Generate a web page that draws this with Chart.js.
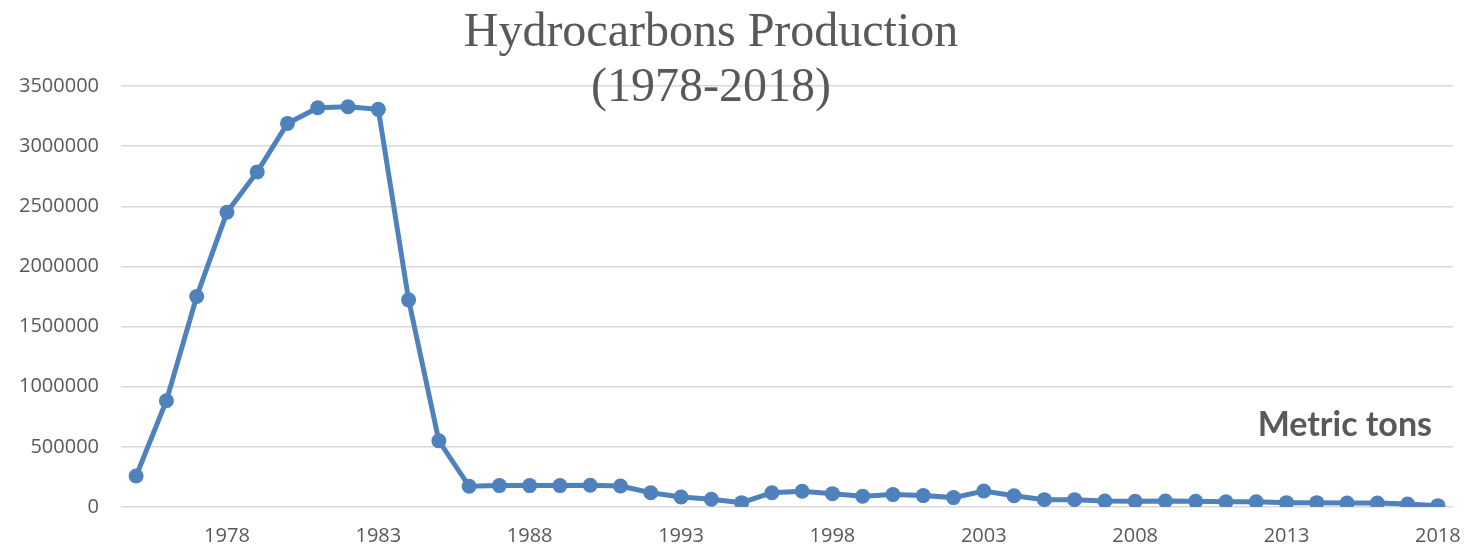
<!DOCTYPE html>
<html>
<head>
<meta charset="utf-8">
<script src="https://cdn.jsdelivr.net/npm/chart.js@4/dist/chart.umd.min.js"></script>
<style>
  html, body { margin: 0; padding: 0; background: #fff; }
  #wrap { width: 1468px; height: 549px; }
</style>
</head>
<body>
<div id="wrap"><canvas id="chart" width="1468" height="549"></canvas></div>
<script>
// Hydrocarbons production, metric tons per year
const years = [
  '1975', '1976', '1977', '1978', '1979', '1980', '1981', '1982', '1983', '1984',
  '1985', '1986', '1987', '1988', '1989', '1990', '1991', '1992', '1993', '1994',
  '1995', '1996', '1997', '1998', '1999', '2000', '2001', '2002', '2003', '2004',
  '2005', '2006', '2007', '2008', '2009', '2010', '2011', '2012', '2013', '2014',
  '2015', '2016', '2017', '2018'
];
const production = [
  258000, 883000, 1750000, 2450000, 2786000, 3189000, 3319000, 3328000, 3306000, 1722000,
  550000, 172000, 178000, 178000, 178000, 181000, 175000, 119000, 83000, 64000,
  36000, 119000, 131000, 111000, 89000, 103000, 95000, 78000, 133000, 94000,
  61000, 61000, 50000, 47000, 50000, 47000, 44000, 44000, 36000, 36000,
  33000, 33000, 25000, 11000
];
const shownYears = ['1978', '1983', '1988', '1993', '1998', '2003', '2008', '2013', '2018'];
const titleLines = ['Hydrocarbons Production', '(1978-2018)'];
const unitLabel = 'Metric tons';

const textGray = '#595959';

// title and unit label sit on top of the plot, like in the spreadsheet original
const overlayText = {
  id: 'overlayText',
  afterDraw(chart) {
    const ctx = chart.ctx;
    ctx.save();
    ctx.fillStyle = textGray;
    ctx.textAlign = 'center';
    ctx.textBaseline = 'alphabetic';
    ctx.font = '48px "Liberation Serif", "Times New Roman", serif';
    ctx.fillText(titleLines[0], 711, 46);
    ctx.fillText(titleLines[1], 711, 101);
    ctx.textAlign = 'right';
    ctx.font = 'bold 34px Lato, "Open Sans", sans-serif';
    ctx.fillText(unitLabel, 1432, 436);
    ctx.restore();
  }
};

new Chart(document.getElementById('chart'), {
  type: 'line',
  data: {
    labels: years,
    datasets: [{
      label: unitLabel,
      data: production,
      borderColor: '#4F81BD',
      backgroundColor: '#4F81BD',
      borderWidth: 5,
      pointRadius: 7.5,
      pointHoverRadius: 7.5,
      pointBorderWidth: 0,
      pointBackgroundColor: '#4F81BD',
      tension: 0
    }]
  },
  options: {
    responsive: false,
    animation: false,
    layout: { padding: { left: 0, right: 15, top: 86, bottom: 0 } },
    plugins: {
      legend: { display: false },
      title: { display: false },
      tooltip: { enabled: false }
    },
    scales: {
      x: {
        offset: true,
        grid: { display: false, drawTicks: false },
        border: { display: false },
        ticks: {
          autoSkip: false,
          maxRotation: 0,
          padding: 17,
          color: textGray,
          font: { family: '"Open Sans"', size: 20 },
          callback: (v, i) => shownYears.includes(years[i]) ? years[i] : ''
        },
        afterFit: s => { s.height = 42; s.paddingLeft = 0; s.paddingRight = 0; }
      },
      y: {
        min: 0,
        max: 3500000,
        grid: { color: '#d9d9d9', lineWidth: 1.5, drawTicks: false },
        border: { display: false },
        ticks: {
          stepSize: 500000,
          padding: 22,
          color: textGray,
          font: { family: '"Open Sans"', size: 20 },
          callback: v => String(v)
        },
        afterFit: s => { s.width = 121; }
      }
    }
  },
  plugins: [overlayText]
});
</script>
</body>
</html>
